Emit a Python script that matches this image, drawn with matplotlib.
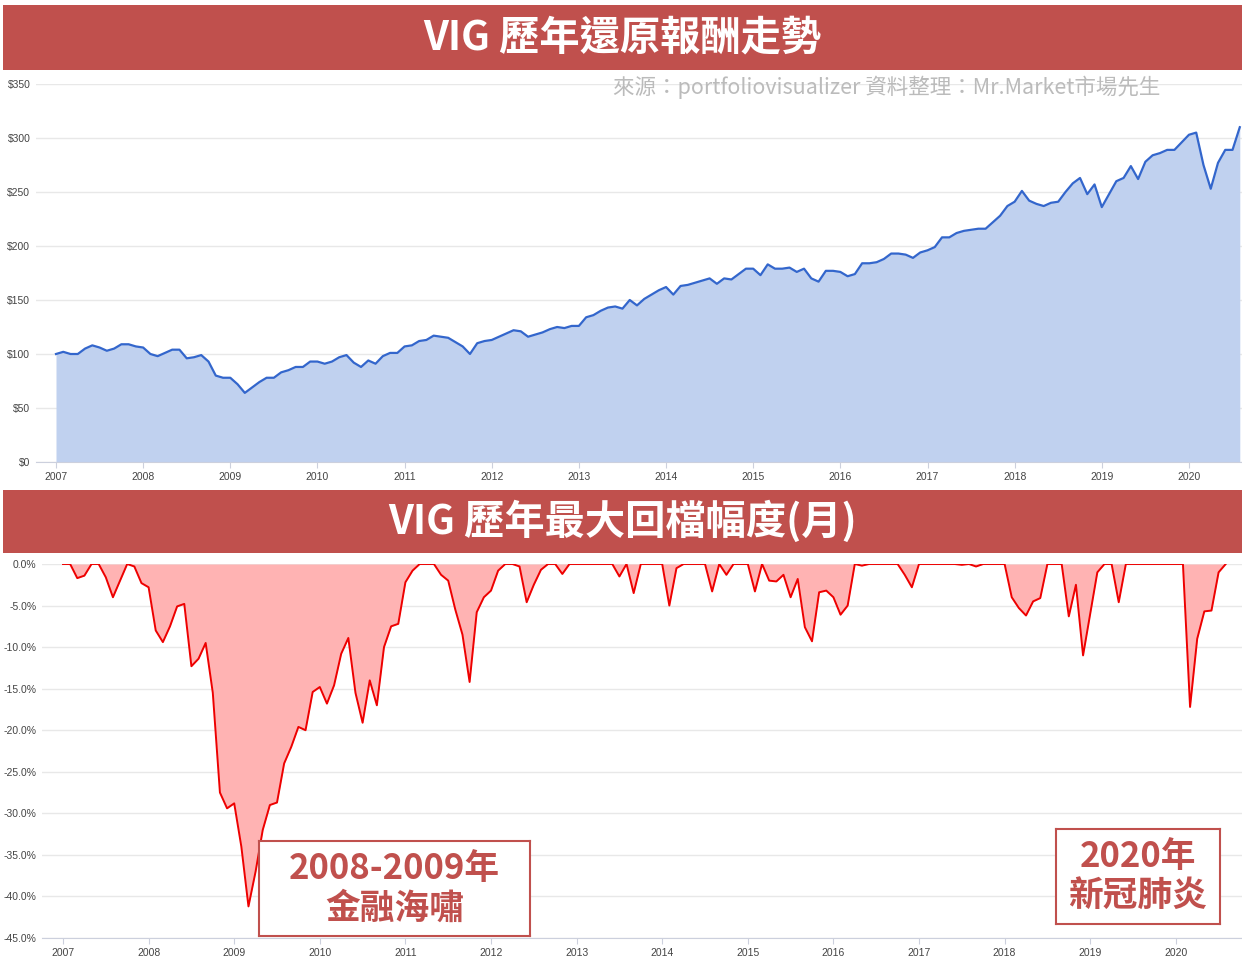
import matplotlib
matplotlib.use("Agg")
import matplotlib.pyplot as plt
import numpy as np

plt.rcParams['font.family'] = ['Noto Sans CJK TC', 'DejaVu Sans']

# monthly values, Jan 2007 .. Aug 2020
growth = [
    100, 102, 100, 100, 105, 108, 106, 103, 105, 109, 109, 107,
    106, 100, 98, 101, 104, 104, 96, 97, 99, 93, 80, 78,
    78, 72, 64, 69, 74, 78, 78, 83, 85, 88, 88, 93,
    93, 91, 93, 97, 99, 92, 88, 94, 91, 98, 101, 101,
    107, 108, 112, 113, 117, 116, 115, 111, 107, 100, 110, 112,
    113, 116, 119, 122, 121, 116, 118, 120, 123, 125, 124, 126,
    126, 134, 136, 140, 143, 144, 142, 150, 145, 151, 155, 159,
    162, 155, 163, 164, 166, 168, 170, 165, 170, 169, 174, 179,
    179, 173, 183, 179, 179, 180, 176, 179, 170, 167, 177, 177,
    176, 172, 174, 184, 184, 185, 188, 193, 193, 192, 189, 194,
    196, 199, 208, 208, 212, 214, 215, 216, 216, 222, 228, 237,
    241, 251, 242, 239, 237, 240, 241, 250, 258, 263, 248, 257,
    236, 248, 260, 263, 274, 262, 278, 284, 286, 289, 289, 296,
    303, 305, 275, 253, 277, 289, 289, 310,
]
drawdown = [
    0, 0, -1.7, -1.4, 0, 0, -1.6, -4.0, -2.0, 0, -0.3, -2.3,
    -2.8, -8.0, -9.4, -7.5, -5.1, -4.8, -12.3, -11.4, -9.5, -15.5, -27.5, -29.4,
    -28.8, -34.0, -41.2, -37.0, -32.0, -29.0, -28.7, -24.0, -22.0, -19.6, -20.0, -15.4,
    -14.8, -16.8, -14.6, -10.8, -8.9, -15.5, -19.1, -14.0, -17.0, -10.0, -7.5, -7.2,
    -2.2, -0.8, 0, 0, 0, -1.3, -2.0, -5.5, -8.5, -14.2, -5.8, -4.0,
    -3.2, -0.8, 0, 0, -0.3, -4.6, -2.5, -0.7, 0, 0, -1.2, 0,
    0, 0, 0, 0, 0, 0, -1.5, 0, -3.5, 0, 0, 0,
    0, -5.0, -0.5, 0, 0, 0, 0, -3.3, 0, -1.3, 0, 0,
    0, -3.3, 0, -2.0, -2.1, -1.3, -4.0, -1.8, -7.6, -9.3, -3.4, -3.2,
    -4.0, -6.1, -5.0, 0, -0.2, 0, 0, 0, 0, 0, -1.3, -2.8,
    0, 0, 0, 0, 0, 0, -0.1, 0, -0.3, 0, 0, 0,
    0, -4.0, -5.3, -6.2, -4.5, -4.1, 0, 0, 0, -6.3, -2.5, -11.0,
    -6.0, -1.0, 0, 0, -4.6, 0, 0, 0, 0, 0, 0, 0,
    0, 0, -17.2, -9.0, -5.7, -5.6, -1.0, 0,
]
years = np.arange(2007, 2021)
months = 2007 + np.arange(len(growth)) / 12

W, H = 1242, 961
RED = "#c0504d"
TICK_FONT = ["Liberation Sans", "DejaVu Sans"]
fig = plt.figure(figsize=(W / 100, H / 100), dpi=100, facecolor="white")


def px_axes(x0, y0, x1, y1):
    return fig.add_axes([x0 / W, 1 - y1 / H, (x1 - x0) / W, (y1 - y0) / H])


def banner(y0, y1, text):
    ax = px_axes(3, y0, 1242, y1)
    ax.set_facecolor(RED)
    ax.set_xticks([]); ax.set_yticks([])
    for s in ax.spines.values():
        s.set_visible(False)
    ax.text(0.5, 0.5, text, color="white", fontsize=29, fontweight="heavy",
            ha="center", va="center", transform=ax.transAxes)


def style(ax):
    for s in ("top", "right", "left"):
        ax.spines[s].set_visible(False)
    ax.spines["bottom"].set_color("#ccd0dd")
    ax.grid(axis="y", color="#e8e8e8", linewidth=1)
    ax.set_axisbelow(True)
    ax.tick_params(axis="y", length=0, labelsize=7.5, colors="#444444", pad=4)
    ax.tick_params(axis="x", length=4, color="#ccd0dd", labelsize=7.5, colors="#444444")
    ax.set_xticks(years)
    ax.set_xticklabels([str(y) for y in years])
    for lab in ax.get_xticklabels() + ax.get_yticklabels():
        lab.set_family(TICK_FONT)


banner(5, 70, "VIG 歷年還原報酬走勢")
banner(490, 553, "VIG 歷年最大回檔幅度(月)")

# top chart
ax1 = px_axes(36, 84, 1242, 462)
ax1.fill_between(months, growth, 0, color="#c0d1ef", linewidth=0)
ax1.plot(months, growth, color="#3366cc", linewidth=1.6)
ax1.set_xlim(2007 - 20 / 87.15, 2007 + 1186 / 87.15)
ax1.set_ylim(0, 350)
ax1.set_yticks(range(0, 351, 50))
ax1.set_yticklabels([f"${v}" for v in range(0, 351, 50)])
style(ax1)
ax1.text((1160 - 36) / 1206, (462 - 87) / 378, "來源：portfoliovisualizer 資料整理：Mr.Market市場先生",
         transform=ax1.transAxes, ha="right", va="center", fontsize=15.5, color="#bbbbbb")

# bottom chart
ax2 = px_axes(42, 564, 1242, 938)
ax2.fill_between(months, drawdown, 0, color="#ffb3b3", linewidth=0)
ax2.plot(months, drawdown, color="#ee0000", linewidth=1.4)
ax2.set_xlim(2007 - 21 / 85.6, 2007 + 1179 / 85.6)
ax2.set_ylim(-45, 0)
ax2.set_yticks(np.arange(-45, 1, 5))
ax2.set_yticklabels([f"{v:.1f}%" for v in np.arange(-45, 1, 5)])
style(ax2)


def note(x0, y0, x1, y1, text):
    ax = px_axes(x0, y0, x1, y1)
    ax.set_facecolor("white")
    ax.set_xticks([]); ax.set_yticks([])
    for s in ax.spines.values():
        s.set_color(RED); s.set_linewidth(1.5)
    ax.text(0.5, 0.5, text, transform=ax.transAxes, ha="center", va="center",
            fontsize=25, fontweight="heavy", color=RED, linespacing=1.15)


note(259, 841, 530, 936, "2008-2009年\n金融海嘯")
note(1056, 829, 1220, 924, "2020年\n新冠肺炎")

fig.savefig("out.png", dpi=100, facecolor="white")
